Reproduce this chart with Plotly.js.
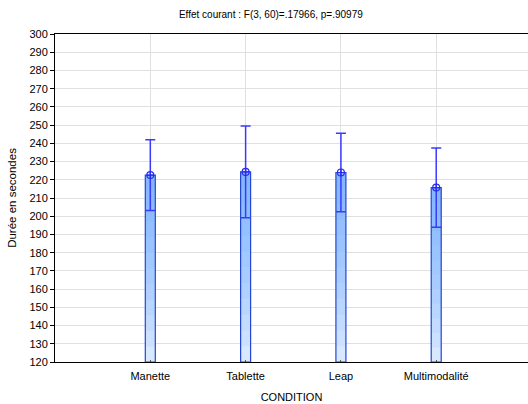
<!DOCTYPE html>
<html>
<head>
<meta charset="utf-8">
<script src="https://cdn.plot.ly/plotly-3.0.1.min.js"></script>
<style>html,body{margin:0;padding:0;background:#fff;}#chart{width:528px;height:404px;}</style>
</head>
<body>
<div id="chart"></div>
<script>
// Data
const categories = ["Manette", "Tablette", "Leap", "Multimodalité"];
const means = [222.6, 224.3, 224.0, 215.7];
const errors = [19.4, 25.2, 21.6, 21.8];
const yTicks = [120,130,140,150,160,170,180,190,200,210,220,230,240,250,260,270,280,290,300];
const yBase = 120;

const traces = [];
// base light fill
traces.push({
  type: 'bar', x: categories, y: means.map(m => m - yBase), base: yBase,
  width: 0.105, marker: {color: '#e3efff', line: {width: 0}},
  hoverinfo: 'skip', showlegend: false
});
// gradient layers (darker toward the top)
const N = 12;
for (let k = 0; k < N; k++) {
  const f = k / N;
  traces.push({
    type: 'bar', x: categories,
    base: means.map(m => yBase + (m - yBase) * f),
    y: means.map(m => (m - yBase) * (1 - f)),
    width: 0.105, marker: {color: 'rgba(90,160,250,0.081)', line: {width: 0}},
    hoverinfo: 'skip', showlegend: false
  });
}
// outline + error bars
traces.push({
  type: 'bar', x: categories, y: means.map(m => m - yBase), base: yBase,
  width: 0.105,
  marker: {color: 'rgba(0,0,0,0)', line: {color: '#2448d4', width: 1.2}},
  error_y: {type: 'data', array: errors, visible: true, color: '#3a3aff', thickness: 1.5, width: 5},
  showlegend: false
});
// mean markers
traces.push({
  type: 'scatter', mode: 'markers', x: categories, y: means,
  marker: {symbol: 'circle-cross-open', size: 7, color: '#2a2af0', line: {width: 1.2, color: '#2a2af0'}},
  showlegend: false
});

const layout = {
  width: 528, height: 404,
  margin: {l: 55, r: 0, t: 34, b: 42},
  paper_bgcolor: '#fff', plot_bgcolor: '#fff',
  barmode: 'overlay',
  font: {family: 'Liberation Sans, Arial, sans-serif', color: '#000', size: 11},
  title: {
    text: 'Effet courant : F(3, 60)=.17966, p=.90979',
    font: {size: 10, color: '#000'},
    x: 0.513, xref: 'container', xanchor: 'center',
    y: 0.963, yref: 'container', yanchor: 'middle'
  },
  xaxis: {
    type: 'category', range: [-1, 3.963],
    showgrid: true, gridcolor: '#e0e0e0', gridwidth: 1,
    showline: true, linecolor: '#000', linewidth: 1, mirror: true,
    ticks: 'inside', ticklen: 2, tickcolor: '#555',
    tickfont: {size: 11}, ticklabelstandoff: 4,
    title: {text: 'CONDITION', font: {size: 11}, standoff: 12},
    zeroline: false
  },
  yaxis: {
    range: [120, 300], tickvals: yTicks, ticktext: yTicks.map(String),
    showgrid: true, gridcolor: '#e0e0e0', gridwidth: 1,
    showline: true, linecolor: '#000', linewidth: 1, mirror: true,
    ticks: 'outside', ticklen: 4, tickcolor: '#000',
    tickfont: {size: 11},
    title: {text: 'Durée en secondes', font: {size: 11.5}, standoff: 10},
    zeroline: false
  }
};

Plotly.newPlot('chart', traces, layout, {displayModeBar: false, staticPlot: true});
</script>
</body>
</html>
